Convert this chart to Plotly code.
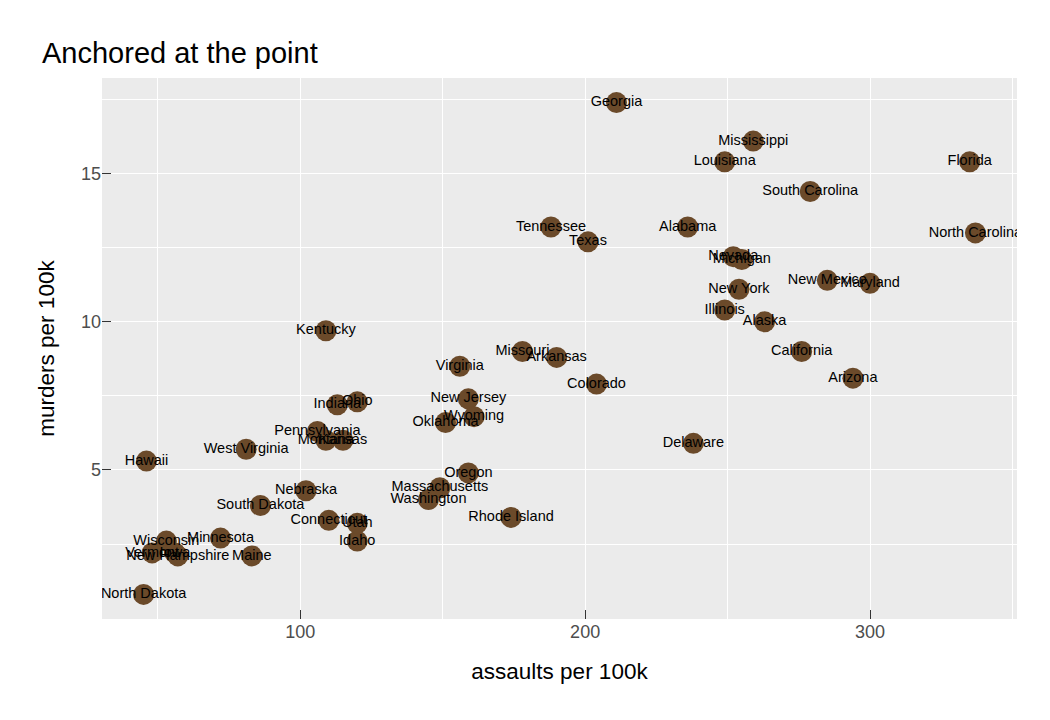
import plotly.graph_objects as go

states = ["Alabama","Alaska","Arizona","Arkansas","California","Colorado","Connecticut","Delaware",
          "Florida","Georgia","Hawaii","Idaho","Illinois","Indiana","Iowa","Kansas","Kentucky",
          "Louisiana","Maine","Maryland","Massachusetts","Michigan","Minnesota","Mississippi",
          "Missouri","Montana","Nebraska","Nevada","New Hampshire","New Jersey","New Mexico",
          "New York","North Carolina","North Dakota","Ohio","Oklahoma","Oregon","Pennsylvania",
          "Rhode Island","South Carolina","South Dakota","Tennessee","Texas","Utah","Vermont",
          "Virginia","Washington","West Virginia","Wisconsin","Wyoming"]
murder = [13.2,10.0,8.1,8.8,9.0,7.9,3.3,5.9,15.4,17.4,5.3,2.6,10.4,7.2,2.2,6.0,9.7,15.4,2.1,11.3,
          4.4,12.1,2.7,16.1,9.0,6.0,4.3,12.2,2.1,7.4,11.4,11.1,13.0,0.8,7.3,6.6,4.9,6.3,3.4,14.4,
          3.8,13.2,12.7,3.2,2.2,8.5,4.0,5.7,2.6,6.8]
assault = [236,263,294,190,276,204,110,238,335,211,46,120,249,113,56,115,109,249,83,300,
           149,255,72,259,178,109,102,252,57,159,285,254,337,45,120,151,159,106,174,279,
           86,188,201,120,48,156,145,81,53,161]

x_ticks = [100, 200, 300]
y_ticks = [5, 10, 15]
x_minor = [50, 150, 250, 350]
y_minor = [2.5, 7.5, 12.5, 17.5]

font = "Liberation Sans, Arial, Helvetica, sans-serif"

fig = go.Figure()
fig.add_trace(go.Scatter(
    x=assault, y=murder, mode="markers+text", text=states,
    textposition="middle center",
    textfont=dict(family=font, size=14.5, color="black"),
    marker=dict(size=21, color="#6b4a2a", line=dict(width=0)),
    cliponaxis=True, hoverinfo="skip",
))

grid = dict(showgrid=True, gridcolor="white", gridwidth=1.3, zeroline=False,
            showline=False, ticks="inside", ticklen=9, tickcolor="#333333", tickwidth=1,
            tickfont=dict(family=font, size=18, color="#4d4d4d"))

fig.update_layout(
    width=1050, height=720,
    margin=dict(l=94, r=41, t=70, b=109),
    paper_bgcolor="white", plot_bgcolor="#ebebeb",
    showlegend=False, hovermode=False,
    title=dict(text="Anchored at the point", font=dict(family=font, size=29, color="black"),
               x=34/1050, xref="container", xanchor="left",
               y=1-45/720, yref="container", yanchor="middle"),
    xaxis=dict(range=[30.4, 351.6], tickvals=x_ticks, **grid,
               minor=dict(tickvals=x_minor, showgrid=True, gridcolor="white", gridwidth=0.6, ticks=""),
               title=dict(text="assaults per 100k", font=dict(family=font, size=22.5, color="black"),
                          standoff=22)),
    yaxis=dict(range=[-0.03, 18.23], tickvals=y_ticks, **grid,
               minor=dict(tickvals=y_minor, showgrid=True, gridcolor="white", gridwidth=0.6, ticks=""),
               title=dict(text="murders per 100k", font=dict(family=font, size=22.5, color="black"),
                          standoff=20)),
)

fig.write_html("out.html")
